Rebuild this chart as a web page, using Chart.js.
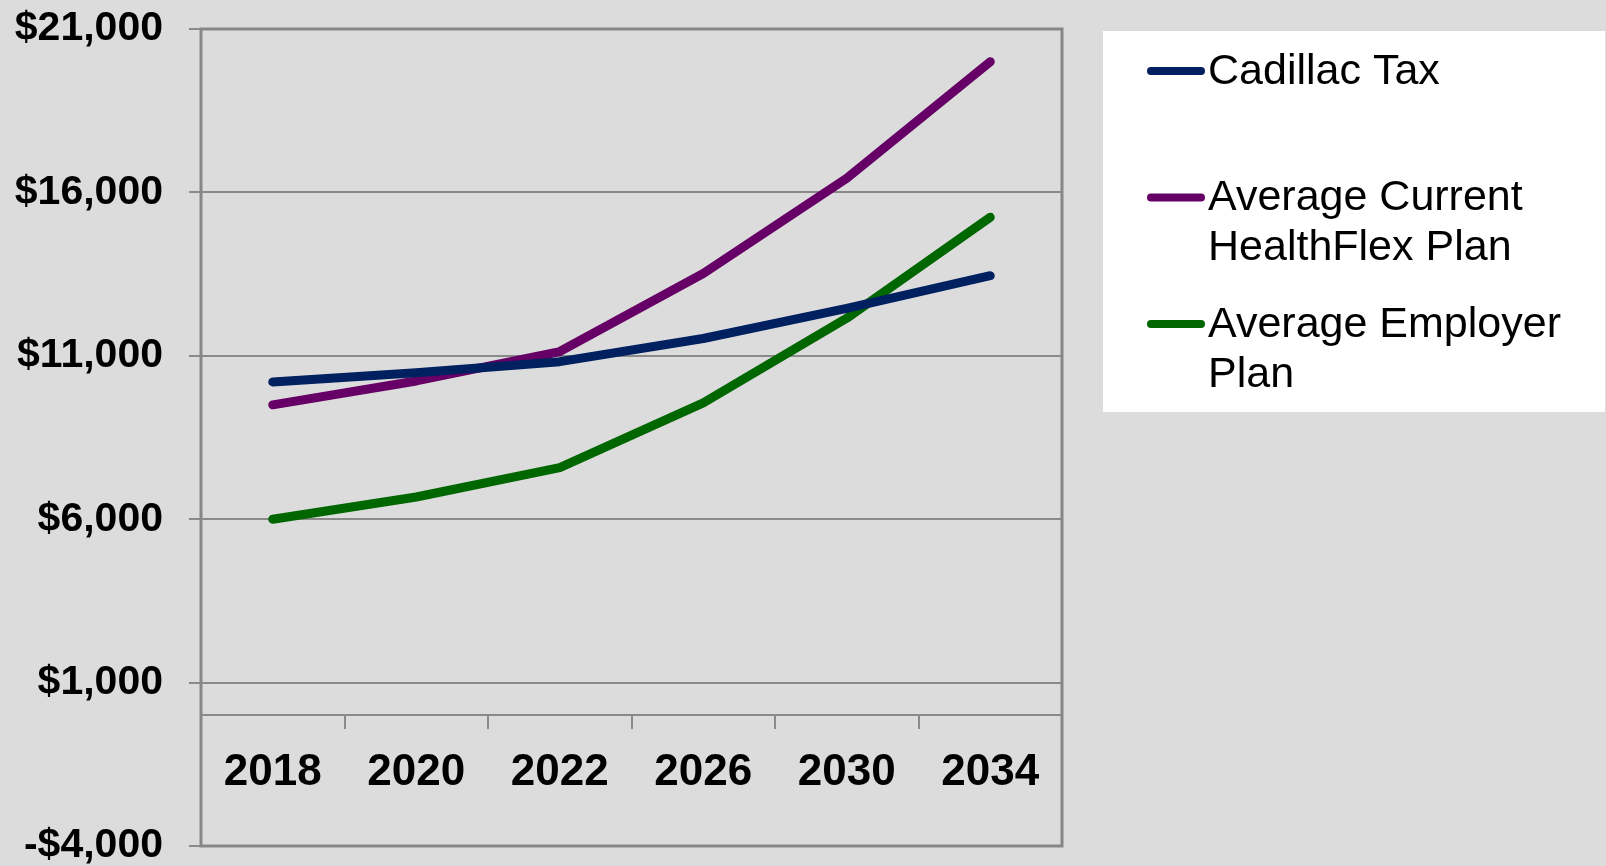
<!DOCTYPE html>
<html>
<head>
    <meta charset="utf-8">
    <title>Cadillac Tax x planos de saude</title>
    <script src="https://cdn.jsdelivr.net/npm/chart.js"></script>
    <style>
        body { margin: 0; background: #dcdcdc; }
        canvas { display: block; }
    </style>
</head>
<body>
    <canvas id="grafico" width="1606" height="866"></canvas>

    <script>
        // Anos do eixo x
        var anos = ["2018", "2020", "2022", "2026", "2030", "2034"];
        // Valores
        var cadillacTax = [10200, 10480, 10820, 11530, 12450, 13450];
        var healthFlex = [9500, 10230, 11130, 13520, 16430, 20000];
        var employerPlan = [6000, 6680, 7580, 9560, 12150, 15240];
        var nomesSeries = ["Cadillac Tax", "Average Current HealthFlex Plan", "Average Employer Plan"];
        var coresSeries = ["#002060", "#660066", "#006600"];
        // Marcas do eixo y
        var yTicks = [-4000, 1000, 6000, 11000, 16000, 21000];

        var cinza = "#8a8a8a";
        var fonte = "'Liberation Sans', Arial, sans-serif";

        // quebra o texto da legenda em linhas
        function quebrarTexto(ctx, texto, largura) {
            var palavras = texto.split(" ");
            var linhas = [];
            var atual = "";
            palavras.forEach(function (p) {
                var teste = atual ? atual + " " + p : p;
                if (atual && ctx.measureText(teste).width > largura) {
                    linhas.push(atual);
                    atual = p;
                } else {
                    atual = teste;
                }
            });
            linhas.push(atual);
            return linhas;
        }

        var fundoPlugin = {
            id: "fundo",
            beforeDraw: function (chart) {
                var ctx = chart.ctx;
                ctx.save();
                ctx.fillStyle = "#dcdcdc";
                ctx.fillRect(0, 0, chart.width, chart.height);
                ctx.restore();
            },
            beforeDatasetsDraw: function (chart) {
                // moldura da area do grafico
                var ca = chart.chartArea;
                var ctx = chart.ctx;
                ctx.save();
                ctx.strokeStyle = "#878787";
                ctx.lineWidth = 3;
                ctx.strokeRect(ca.left, ca.top, ca.right - ca.left, ca.bottom - ca.top);
                ctx.restore();
            }
        };

        var legendaPlugin = {
            id: "legenda",
            afterDraw: function (chart) {
                var ctx = chart.ctx;
                ctx.save();
                ctx.fillStyle = "#ffffff";
                ctx.fillRect(1103, 31, 502, 381);
                ctx.font = "43px " + fonte;
                ctx.textBaseline = "middle";
                ctx.textAlign = "left";
                chart.data.datasets.forEach(function (ds, i) {
                    var y = 71 + i * 126.5;
                    ctx.strokeStyle = ds.borderColor;
                    ctx.lineWidth = 8;
                    ctx.lineCap = "round";
                    ctx.beginPath();
                    ctx.moveTo(1151, y);
                    ctx.lineTo(1201, y);
                    ctx.stroke();
                    ctx.fillStyle = "#000000";
                    var linhas = quebrarTexto(ctx, ds.label, 392);
                    linhas.forEach(function (l, j) {
                        ctx.fillText(l, 1208, y + 1 + j * 50);
                    });
                });
                ctx.restore();
            }
        };

        var series = [cadillacTax, healthFlex, employerPlan];
        var datasets = series.map(function (valores, i) {
            return {
                label: nomesSeries[i],
                data: valores,
                borderColor: coresSeries[i],
                backgroundColor: coresSeries[i],
                borderWidth: 9,
                borderCapStyle: "round",
                borderJoinStyle: "round",
                pointRadius: 0,
                tension: 0,
                fill: false
            };
        });

        var ctx = document.getElementById("grafico").getContext("2d");
        var grafico = new Chart(ctx, {
            type: "line",
            data: {
                labels: anos,
                datasets: datasets
            },
            options: {
                responsive: false,
                animation: false,
                layout: {
                    autoPadding: false,
                    padding: { left: 0, top: 29, right: 544, bottom: 20 }
                },
                plugins: {
                    legend: { display: false },
                    tooltip: { enabled: false }
                },
                scales: {
                    x: {
                        type: "category",
                        position: { y: 0 },
                        offset: true,
                        grid: {
                            display: true,
                            drawOnChartArea: false,
                            drawTicks: true,
                            tickLength: 13,
                            color: cinza,
                            lineWidth: 2,
                            offset: true
                        },
                        border: { display: true, color: cinza, width: 2 },
                        ticks: {
                            color: "#000000",
                            padding: 23,
                            maxRotation: 0,
                            font: { family: fonte, size: 44, weight: "bold", lineHeight: 1 }
                        }
                    },
                    y: {
                        min: yTicks[0],
                        max: yTicks[yTicks.length - 1],
                        afterBuildTicks: function (scale) {
                            scale.ticks = yTicks.map(function (v) { return { value: v }; });
                        },
                        afterFit: function (scale) {
                            scale.width = 201;
                            // a margem do layout ja cobre os rotulos
                            scale.paddingTop = 0;
                            scale.paddingBottom = 0;
                        },
                        grid: {
                            color: cinza,
                            lineWidth: 2,
                            drawTicks: true,
                            tickLength: 12
                        },
                        border: { display: false },
                        ticks: {
                            color: "#000000",
                            padding: 26,
                            font: { family: fonte, size: 41, weight: "bold", lineHeight: 1 },
                            callback: function (v) {
                                var sinal = v < 0 ? "-" : "";
                                return sinal + "$" + Math.abs(v).toLocaleString("en-US");
                            }
                        }
                    }
                }
            },
            plugins: [fundoPlugin, legendaPlugin]
        });
    </script>
</body>
</html>
